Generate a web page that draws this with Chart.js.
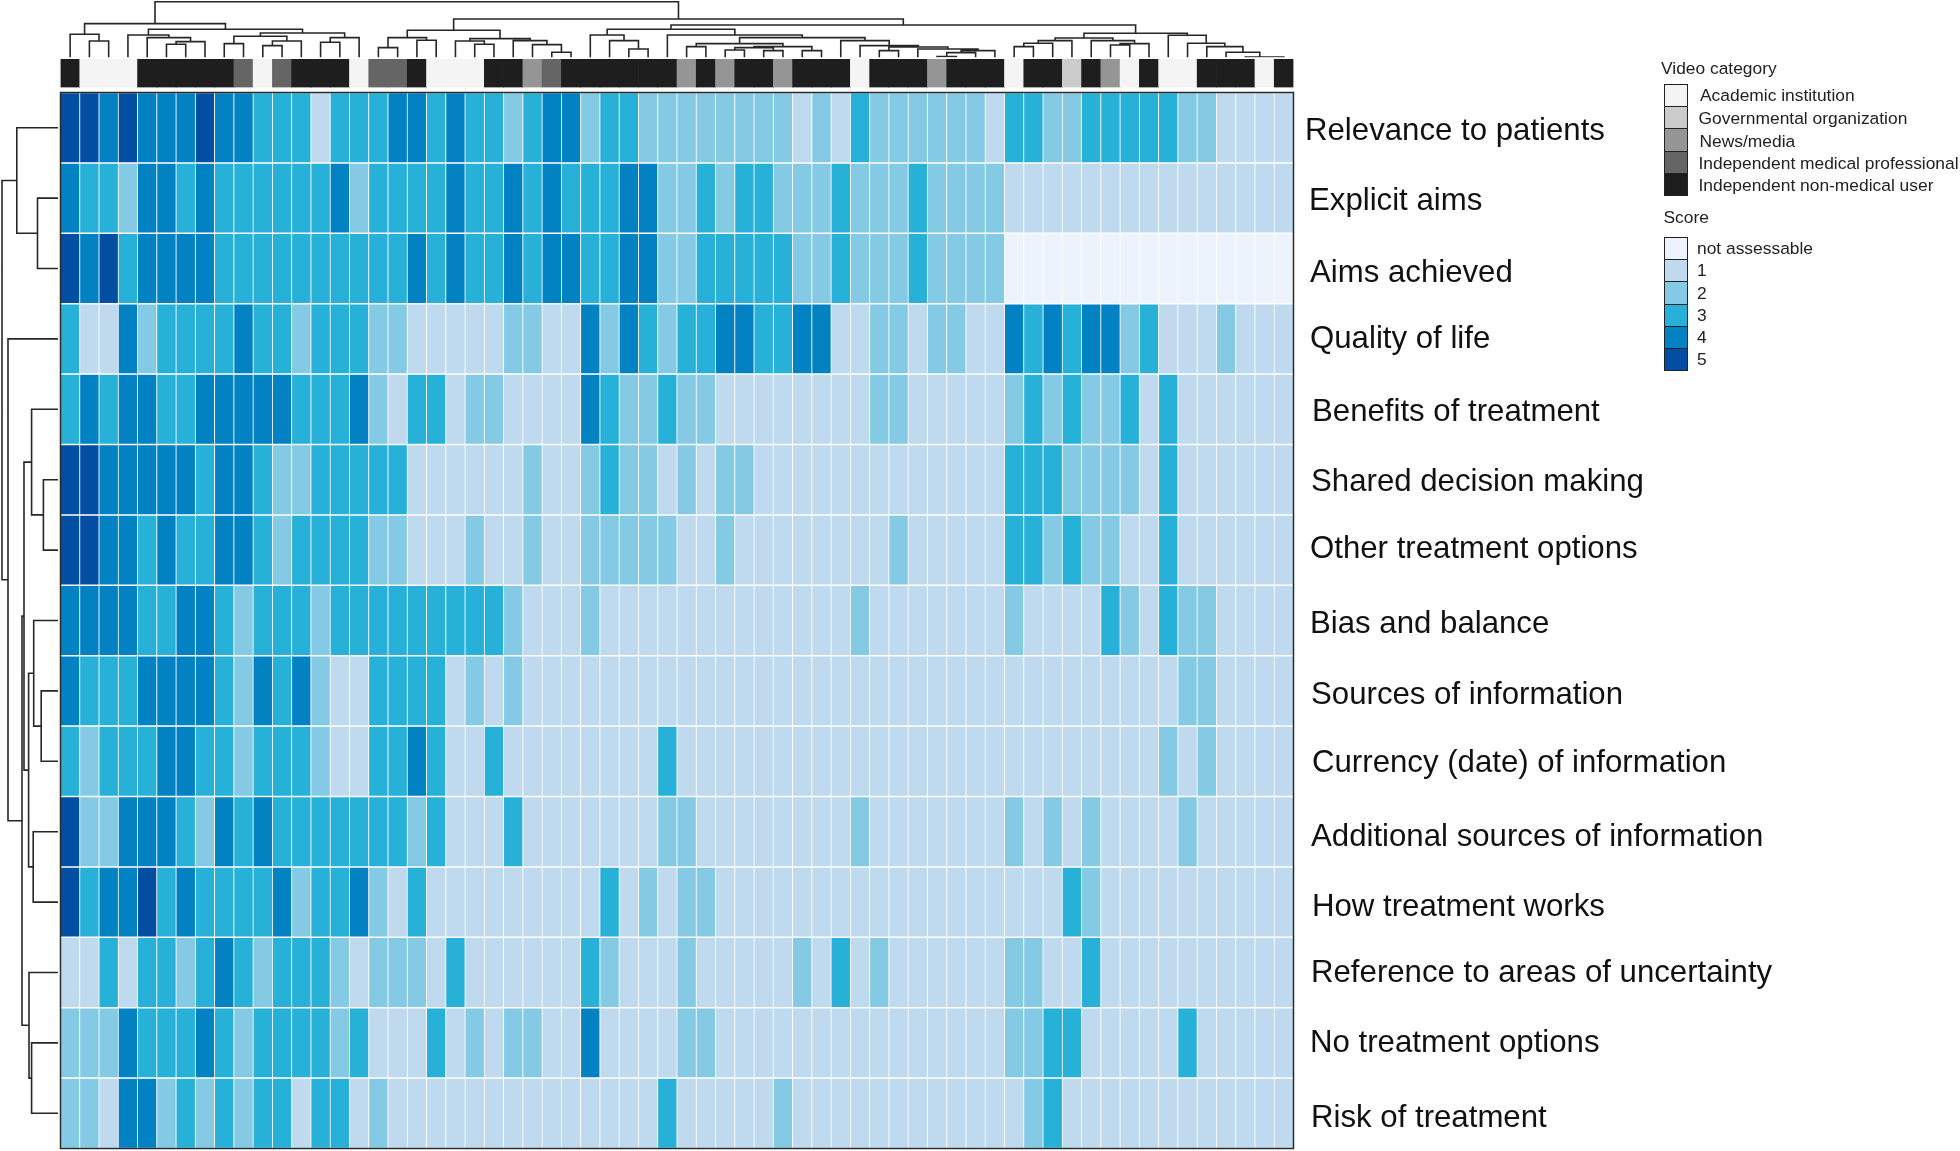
<!DOCTYPE html>
<html><head><meta charset="utf-8">
<style>
html,body{margin:0;padding:0;background:#fff;width:1960px;height:1151px;overflow:hidden}
canvas{position:absolute}
#wrap{position:absolute;left:0;top:0;width:1960px;height:1151px}
.t{position:absolute;font-family:"Liberation Sans",Arial,sans-serif;font-size:17.4px;line-height:20px;color:#222;white-space:nowrap;transform:translateY(-50%)}
.s{position:absolute;left:1663.5px;width:22px;height:21.2px;border:.6px solid #222;box-sizing:content-box}
</style>
<script src="https://cdn.jsdelivr.net/npm/chart.js@4/dist/chart.umd.js"></script>
</head><body><div id="wrap">
<canvas id="heat" style="left:0;top:0" width="1960" height="1151"></canvas>
<canvas id="anno" style="left:0;top:55px" width="1960" height="36"></canvas>
<canvas id="dtop" style="left:0;top:0" width="1960" height="58"></canvas>
<canvas id="dleft" style="left:0;top:92px" width="60" height="1058"></canvas>
</div>
<script>
const rowLabels=["Relevance to patients","Explicit aims","Aims achieved","Quality of life","Benefits of treatment","Shared decision making","Other treatment options","Bias and balance","Sources of information","Currency (date) of information","Additional sources of information","How treatment works","Reference to areas of uncertainty","No treatment options","Risk of treatment"];
const columns=Array.from({length:64},(_,i)=>"V"+(i+1));
const scoreNames=["not assessable","1","2","3","4","5"];
const scoreColors=["#EDF3FD","#BFDAEF","#85CAE4","#27B0D8","#0281C3","#014EA2"];
const categoryNames=["Academic institution","Governmental organization","News/media","Independent medical professional","Independent non-medical user"];
const categoryColors=["#F4F4F4","#CBCBCB","#959595","#656565","#1E1E1E"];
// video category per column (index into categoryNames)
const videoCategory=[4,0,0,0,4,4,4,4,4,3,0,3,4,4,4,0,3,3,4,0,0,0,4,4,2,3,4,4,4,4,4,4,2,4,2,4,4,2,4,4,4,0,4,4,4,2,4,4,4,0,4,4,1,4,2,0,4,0,0,4,4,4,0,4];
// scores per row, per column
const scores=[
[5,5,4,5,4,4,4,5,4,4,3,3,3,1,3,3,3,4,4,3,4,3,3,2,3,4,4,2,3,3,2,2,2,2,2,2,2,2,1,2,1,3,2,2,2,2,2,2,1,3,3,2,2,3,3,3,3,3,2,2,1,1,1,1],
[4,3,3,2,4,4,3,4,3,3,3,3,3,3,4,2,3,3,3,3,4,3,3,4,3,4,3,3,3,4,4,2,2,3,2,3,3,2,2,2,3,2,2,2,3,2,2,2,2,1,1,1,1,1,1,1,1,1,1,1,1,1,1,1],
[5,4,5,3,4,4,4,4,3,3,3,3,3,3,3,3,3,3,4,3,4,3,3,4,3,4,4,3,3,4,4,2,2,3,3,3,3,3,2,2,3,2,2,2,3,2,2,2,2,0,0,0,0,0,0,0,0,0,0,0,0,0,0,0],
[3,1,1,4,2,3,3,3,3,4,3,3,2,3,3,3,2,2,1,1,1,1,1,2,2,1,1,4,2,4,3,2,3,3,4,4,3,3,4,4,1,1,2,2,1,2,2,1,1,4,3,4,3,4,4,2,3,1,1,1,2,1,1,1],
[3,4,3,4,4,3,3,4,4,4,4,4,3,3,3,4,2,1,3,3,1,2,2,1,1,1,1,4,3,2,2,3,2,2,1,1,1,1,1,1,1,1,2,2,1,1,1,1,1,2,3,2,3,2,2,3,1,3,1,1,1,1,1,1],
[5,5,4,4,4,4,4,3,4,4,3,2,2,3,3,3,3,3,1,1,1,1,1,1,2,1,1,2,3,2,2,1,2,1,2,2,1,1,1,1,1,1,1,1,1,1,1,1,1,3,3,3,2,2,2,2,1,3,1,1,1,1,1,1],
[5,5,4,4,3,4,3,3,4,4,3,2,3,3,3,3,2,2,1,1,1,2,1,1,2,1,1,2,2,2,2,2,1,1,2,1,1,1,1,1,1,1,1,2,1,1,1,1,1,3,3,2,3,2,2,1,1,3,1,1,1,1,1,1],
[4,4,4,4,3,3,4,4,3,2,3,3,3,2,3,3,3,3,3,3,3,3,3,2,1,1,1,2,1,1,1,1,1,1,1,1,1,1,1,1,1,2,1,1,1,1,1,1,1,2,1,1,1,1,3,2,1,3,2,2,1,1,1,1],
[4,3,3,3,4,4,4,4,3,2,4,3,4,2,1,1,3,3,3,3,1,2,1,2,1,1,1,1,1,1,1,1,1,1,1,1,1,1,1,1,1,1,1,1,1,1,1,1,1,1,1,1,1,1,1,1,1,1,2,2,1,1,1,1],
[3,2,3,3,3,4,4,3,3,2,3,3,3,2,1,1,3,3,4,3,1,1,3,1,1,1,1,1,1,1,1,3,1,1,1,1,1,1,1,1,1,1,1,1,1,1,1,1,1,1,1,1,1,1,1,1,1,2,1,2,1,1,1,1],
[5,2,2,4,4,4,3,2,4,3,4,3,3,3,3,3,3,3,2,3,1,1,1,3,1,1,1,1,1,1,1,2,2,1,1,1,1,1,1,1,1,2,1,1,1,1,1,1,1,2,1,2,1,2,1,1,1,1,2,1,1,1,1,1],
[5,3,4,4,5,3,4,3,3,3,3,4,2,3,3,4,2,1,3,1,1,1,1,1,1,1,1,1,3,1,2,1,2,2,1,1,1,1,1,1,1,1,1,1,1,1,1,1,1,1,1,1,3,2,1,1,1,1,1,1,1,1,1,1],
[1,1,3,1,3,3,2,3,4,3,2,3,3,3,2,1,2,2,2,1,3,1,1,1,1,1,1,3,2,1,1,1,2,1,1,1,1,1,2,1,3,1,2,1,1,1,1,1,1,2,2,1,1,3,1,1,1,1,1,1,1,1,1,1],
[2,2,2,4,3,3,3,4,3,2,3,3,3,3,2,3,1,1,1,3,1,2,1,2,2,1,1,4,1,1,1,1,2,2,1,1,1,1,1,1,1,1,1,1,1,1,1,1,1,2,2,3,3,1,1,1,1,1,3,1,1,1,1,1],
[2,2,1,4,4,2,3,2,3,2,3,3,1,3,3,1,2,1,1,1,1,1,1,1,1,1,1,1,1,1,1,3,1,1,1,1,1,2,1,1,1,1,1,1,1,1,1,1,1,1,2,3,1,1,1,1,1,1,1,1,1,1,1,1]
];
// dendrograms as nested [height, left, right]; numbers are leaf indexes
const columnTree=[55.6,
 [33.7,
  [23,0,[16.3,1,2]],
  [28,
   [22.3,3,[19.7,4,[15.7,[13,5,6],7]]],
   [24.3,
    [21,[13.7,8,9],[16.3,[11.7,10,11],12]],
    [19.7,[15,13,14],15]]]],
 [38.3,
  [27,
   [19.7,[9.7,16,17],[17,18,19]],
   [18.7,
    [16.3,20,[13,21,22]],
    [16.7,23,[12.7,24,[5,25,26]]]]],
  [32.3,
   [28,
    [22.3,27,[16.7,28,[8.3,29,30]]],
    [22.3,31,[19.7,
      [13.7,[10.7,32,33],[10.7,[9.7,[7.3,34,35],[6.7,36,37]],[6.7,38,39]]],
      [16.7,40,[11.7,41,[10.3,[6.7,42,43],[8.3,44,[6.7,[4.7,[.7,45,46],47],48]]]]]]]],
   [24,
    [19.3,
     [16.7,[14,[10.7,49,50],51],52],
     [16.7,53,[13.7,[12.3,54,55],56]]],
    [22,57,[14,58,[10.7,59,[5,60,[.3,61,[.3,62,63]]]]]]]]]];
const rowTree=[56,[41.2,0,[20.5,1,2]],[50,3,[36,[34,[26.4,4,[14.6,5,6]],[29.4,[24.3,7,[16.8,8,9]],[24.8,10,11]]],[29,12,[26.4,13,14]]]]];

const PLOT={left:60.5,right:1293.5,top:92.5,bottom:1148.5};
const W=1960,H=1151;
Chart.defaults.animation=false;
Chart.defaults.responsive=false;
Chart.defaults.devicePixelRatio=1;
Chart.defaults.plugins.legend.display=false;

// heatmap
const labelX=[1305,1309,1310,1310,1312,1311,1310,1310,1311,1312,1311,1312,1311,1310,1311];
const labelY=[131,201,273,339,412,482,549,624,695,763,837,907,973,1043,1118];
const framePlugin={id:'frame',
 beforeDraw(c){
  const s=c.scales.y;
  s.getLabelItems(c.chartArea).forEach((it,i)=>{
    it.options.translation=[labelX[i],labelY[i]];
  });
 },
 afterDatasetsDraw(c){
  const a=c.chartArea,x=c.ctx;x.save();x.strokeStyle='#2b2b2b';x.lineWidth=1.5;
  x.strokeRect(a.left,a.top,a.right-a.left,a.bottom-a.top);x.restore();
 }};
new Chart(document.getElementById('heat'),{
 type:'bar',
 data:{labels:columns,datasets:rowLabels.map((name,r)=>({
   label:name,
   data:scores[r].map(()=>[r,r+1]),
   backgroundColor:scores[r].map(v=>scoreColors[v]),
   borderColor:'#ffffff',borderWidth:{left:.75,right:.75,top:1.1,bottom:1.1},borderSkipped:false,
   barPercentage:1,categoryPercentage:1,grouped:false
 }))},
 options:{
  layout:{padding:{left:PLOT.left,top:PLOT.top,bottom:H-PLOT.bottom,right:0}},
  plugins:{tooltip:{enabled:false}},
  scales:{
   x:{display:false,offset:true,grid:{display:false}},
   y:{type:'linear',position:'right',min:0,max:15,reverse:true,
      grid:{display:false},border:{display:false},
      afterFit(s){s.width=W-PLOT.right;s.paddingTop=0;s.paddingBottom=0},
      afterBuildTicks(s){s.ticks=rowLabels.map((_,i)=>({value:i+.5}))},
      ticks:{autoSkip:false,padding:12,color:'#111',align:'center',crossAlign:'near',
        font:{family:'"Liberation Sans"',size:31.2},
        callback:(v,i)=>rowLabels[i]}}
  }
 },
 plugins:[framePlugin]
});

// annotation strip
new Chart(document.getElementById('anno'),{
 type:'bar',
 data:{labels:columns,datasets:[{label:'Video category',data:videoCategory.map(()=>1),
   backgroundColor:videoCategory.map(v=>categoryColors[v]),
   barPercentage:1,categoryPercentage:1}]},
 options:{
  layout:{padding:{left:PLOT.left,right:W-PLOT.right,top:4,bottom:3.5}},
  plugins:{tooltip:{enabled:false}},
  scales:{x:{display:false,offset:true},y:{display:false,min:0,max:1}}
 }
});

// dendrograms
function segments(tree,toPoint){
 const pts=[];
 function walk(n){
  if(typeof n==='number')return {pos:n+.5,h:0};
  const a=walk(n[1]),b=walk(n[2]),h=n[0];
  pts.push(toPoint(a.pos,a.h),toPoint(a.pos,h),toPoint(b.pos,h),toPoint(b.pos,b.h),{x:null,y:null});
  return {pos:(a.pos+b.pos)/2,h};
 }
 walk(tree);
 return pts;
}
const lineStyle={showLine:true,spanGaps:false,borderColor:'#262626',borderWidth:1.6,pointRadius:0,tension:0,borderJoinStyle:'miter',borderCapStyle:'square'};
new Chart(document.getElementById('dtop'),{
 type:'scatter',
 data:{datasets:[{label:'Videos',data:segments(columnTree,(p,h)=>({x:p,y:h})),...lineStyle}]},
 options:{
  layout:{padding:{left:PLOT.left,right:W-PLOT.right,top:0,bottom:.7}},
  plugins:{tooltip:{enabled:false}},
  scales:{x:{display:false,min:0,max:64},y:{display:false,min:0,max:57.3}}
 }
});
new Chart(document.getElementById('dleft'),{
 type:'scatter',
 data:{datasets:[{label:'Criteria',data:segments(rowTree,(p,h)=>({x:h,y:p})),...lineStyle}]},
 options:{
  layout:{padding:{left:0,right:2,top:.5,bottom:1.5}},
  plugins:{tooltip:{enabled:false}},
  scales:{x:{display:false,min:0,max:58,reverse:true},y:{display:false,min:0,max:15,reverse:true}}
 }
});

// legends
const wrap=document.getElementById('wrap');
function text(s,x,y,fs){const d=document.createElement('div');d.className='t';d.textContent=s;d.style.left=x+'px';d.style.top=y+'px';if(fs)d.style.fontSize=fs+'px';wrap.appendChild(d);}
function swatch(c,y){const d=document.createElement('div');d.className='s';d.style.background=c;d.style.top=y+'px';wrap.appendChild(d);}
text('Video category',1661,67.7);
const catTextX=[1700,1698.5,1699.5,1698.5,1698.5],catTextY=[95,117.5,141,162.5,185];
categoryNames.forEach((n,i)=>{swatch(categoryColors[i],84+22.2*i);text(n,catTextX[i],catTextY[i]);});
text('Score',1663.5,216.7);
const scoreTextY=[247.7,270,292.7,315,336.7,359.3];
scoreNames.forEach((n,i)=>{swatch(scoreColors[i],237+22.2*i);text(n,1697,scoreTextY[i]);});
</script></body></html>
